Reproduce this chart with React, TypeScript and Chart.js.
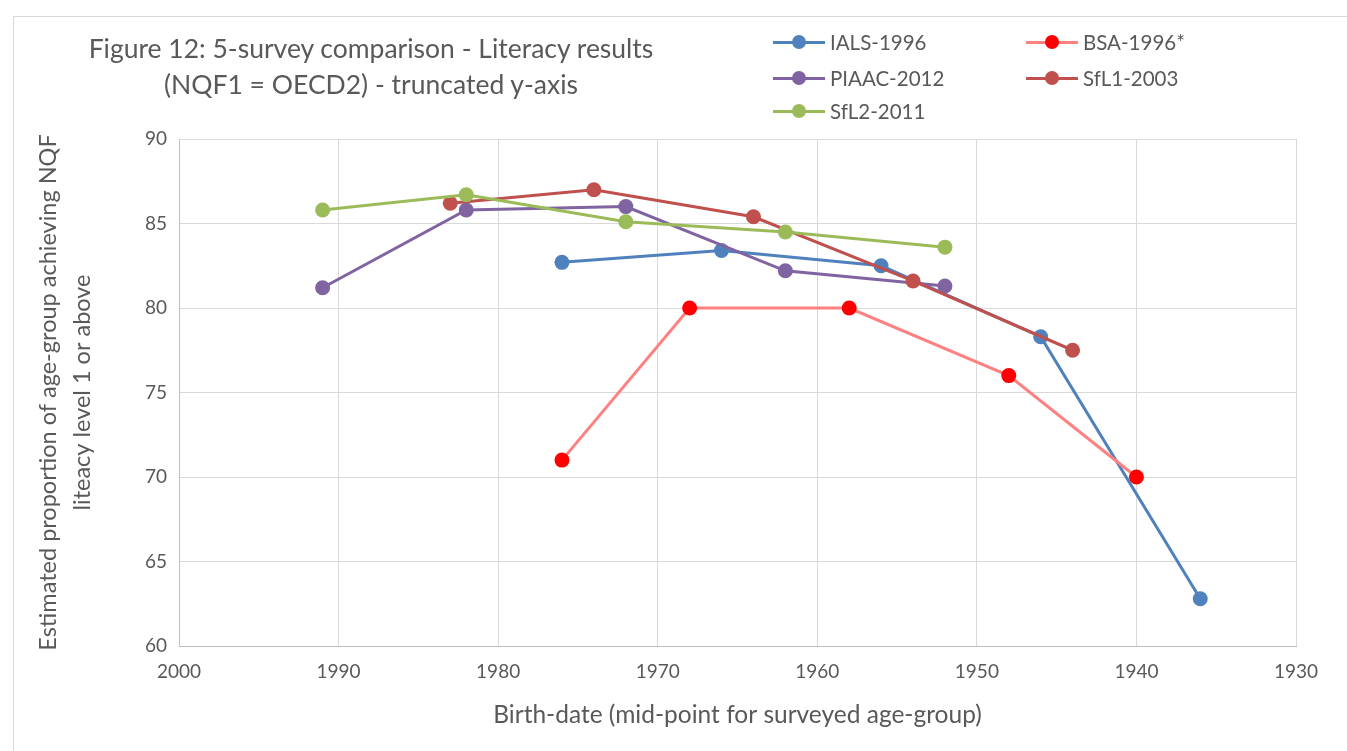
import React, { useEffect, useRef } from "react";
import { Chart, registerables } from "chart.js";

Chart.register(...registerables);

const FONT = "Lato, 'Open Sans', sans-serif";
const TEXT = "#595959";

const seriesNames = ["IALS-1996", "BSA-1996*", "PIAAC-2012", "SfL1-2003", "SfL2-2011"];
const lineColors = ["#4F81BD", "#FF8080", "#8064A2", "#C0504D", "#9BBB59"];
const markerColors = ["#4F81BD", "#FF0000", "#8064A2", "#C0504D", "#9BBB59"];

const ialsYears = [1976, 1966, 1956, 1946, 1936];
const ialsValues = [82.7, 83.4, 82.5, 78.3, 62.8];
const bsaYears = [1976, 1968, 1958, 1948, 1940];
const bsaValues = [71, 80, 80, 76, 70];
const piaacYears = [1991, 1982, 1972, 1962, 1952];
const piaacValues = [81.2, 85.8, 86.0, 82.2, 81.3];
const sfl1Years = [1983, 1974, 1964, 1954, 1944];
const sfl1Values = [86.2, 87.0, 85.4, 81.6, 77.5];
const sfl2Years = [1991, 1982, 1972, 1962, 1952];
const sfl2Values = [85.8, 86.7, 85.1, 84.5, 83.6];

const xTicks = [2000, 1990, 1980, 1970, 1960, 1950, 1940, 1930];
const yTicks = [60, 65, 70, 75, 80, 85, 90];

const titleLines = [
  "Figure 12: 5-survey comparison - Literacy results",
  "(NQF1 = OECD2) - truncated y-axis",
];
const yTitle = ["Estimated proportion of age-group achieving NQF", "liteacy level 1 or above"];
const xTitle = "Birth-date (mid-point for surveyed age-group)";

const allYears = [ialsYears, bsaYears, piaacYears, sfl1Years, sfl2Years];
const allValues = [ialsValues, bsaValues, piaacValues, sfl1Values, sfl2Values];

const legendPos = [
  { x: 773, y: 42 },
  { x: 1026, y: 42 },
  { x: 773, y: 78 },
  { x: 1026, y: 78 },
  { x: 773, y: 111 },
];

export default function App() {
  const ref = useRef<HTMLCanvasElement | null>(null);

  useEffect(() => {
    if (!ref.current) return;
    const datasets = seriesNames.map((name, i) => ({
      label: name,
      data: allYears[i].map((yr, j) => ({ x: yr, y: allValues[i][j] })),
      borderColor: lineColors[i],
      backgroundColor: markerColors[i],
      pointBackgroundColor: markerColors[i],
      pointBorderColor: markerColors[i],
      pointBorderWidth: 0,
      pointRadius: 7.5,
      pointHoverRadius: 7.5,
      borderWidth: 3,
      tension: 0,
      fill: false,
      order: 5 - i,
    }));
    const chart = new Chart(ref.current, {
      type: "line",
      data: { datasets },
      options: {
        animation: false,
        responsive: false,
        layout: { padding: { left: 20, top: 139, right: 51, bottom: 0 } },
        plugins: { legend: { display: false }, title: { display: false }, tooltip: { enabled: false } },
        scales: {
          x: {
            type: "linear",
            reverse: true,
            min: xTicks[xTicks.length - 1],
            max: xTicks[0],
            afterBuildTicks: (s: any) => {
              s.ticks = xTicks.map((v) => ({ value: v }));
            },
            afterFit: (s: any) => {
              s.height = 105;
            },
            ticks: {
              color: TEXT,
              font: { family: FONT, size: 19 },
              padding: 14,
              maxRotation: 0,
              callback: (v: any) => String(v),
            },
            grid: { color: "#d9d9d9", lineWidth: 1, drawTicks: false },
            border: { color: "#bfbfbf", width: 1 },
            title: {
              display: true,
              text: xTitle,
              color: TEXT,
              font: { family: FONT, size: 24.5, lineHeight: 1.3 },
              padding: { top: 0, bottom: 20 },
            },
          },
          y: {
            type: "linear",
            min: yTicks[0],
            max: yTicks[yTicks.length - 1],
            afterBuildTicks: (s: any) => {
              s.ticks = yTicks.map((v) => ({ value: v }));
            },
            afterFit: (s: any) => {
              s.width = 159;
            },
            ticks: {
              color: TEXT,
              font: { family: FONT, size: 19 },
              padding: 12,
              callback: (v: any) => String(v),
            },
            grid: { color: "#d9d9d9", lineWidth: 1, drawTicks: false },
            border: { color: "#bfbfbf", width: 1 },
            title: {
              display: true,
              text: yTitle,
              color: TEXT,
              font: { family: FONT, size: 23.5, lineHeight: 1.45 },
              padding: { top: 11, bottom: 0 },
            },
          },
        },
      },
    });
    return () => chart.destroy();
  }, []);

  return (
    <div
      style={{
        position: "absolute",
        left: 0,
        top: 0,
        width: 1347,
        height: 751,
        overflow: "hidden",
        background: "#ffffff",
        fontFamily: FONT,
      }}
    >
      <div
        style={{
          position: "absolute",
          left: 13,
          top: 16,
          width: 1400,
          height: 800,
          border: "1px solid #d9d9d9",
          boxSizing: "border-box",
        }}
      />
      <canvas
        ref={ref}
        width={1347}
        height={751}
        style={{ position: "absolute", left: 0, top: 0, width: 1347, height: 751 }}
      />
      {titleLines.map((t, i) => (
        <div
          key={t}
          style={{
            position: "absolute",
            left: 371 - 400,
            width: 800,
            top: (i === 0 ? 48 : 84) - 18,
            height: 36,
            lineHeight: "36px",
            textAlign: "center",
            color: TEXT,
            fontSize: 26.5,
            whiteSpace: "nowrap",
          }}
        >
          {t}
        </div>
      ))}
      {seriesNames.map((name, i) => {
        const p = legendPos[i];
        return (
          <div key={name} style={{ position: "absolute", left: p.x, top: p.y - 14, height: 28 }}>
            <div
              style={{
                position: "absolute",
                left: 0,
                top: 12.5,
                width: 52,
                height: 3,
                background: lineColors[i],
              }}
            />
            <div
              style={{
                position: "absolute",
                left: 26 - 7,
                top: 14 - 7,
                width: 14,
                height: 14,
                borderRadius: 7,
                background: markerColors[i],
              }}
            />
            <div
              style={{
                position: "absolute",
                left: 57,
                top: 0,
                height: 28,
                lineHeight: "28px",
                color: TEXT,
                fontSize: 20.5,
                whiteSpace: "nowrap",
              }}
            >
              {name}
            </div>
          </div>
        );
      })}
    </div>
  );
}
